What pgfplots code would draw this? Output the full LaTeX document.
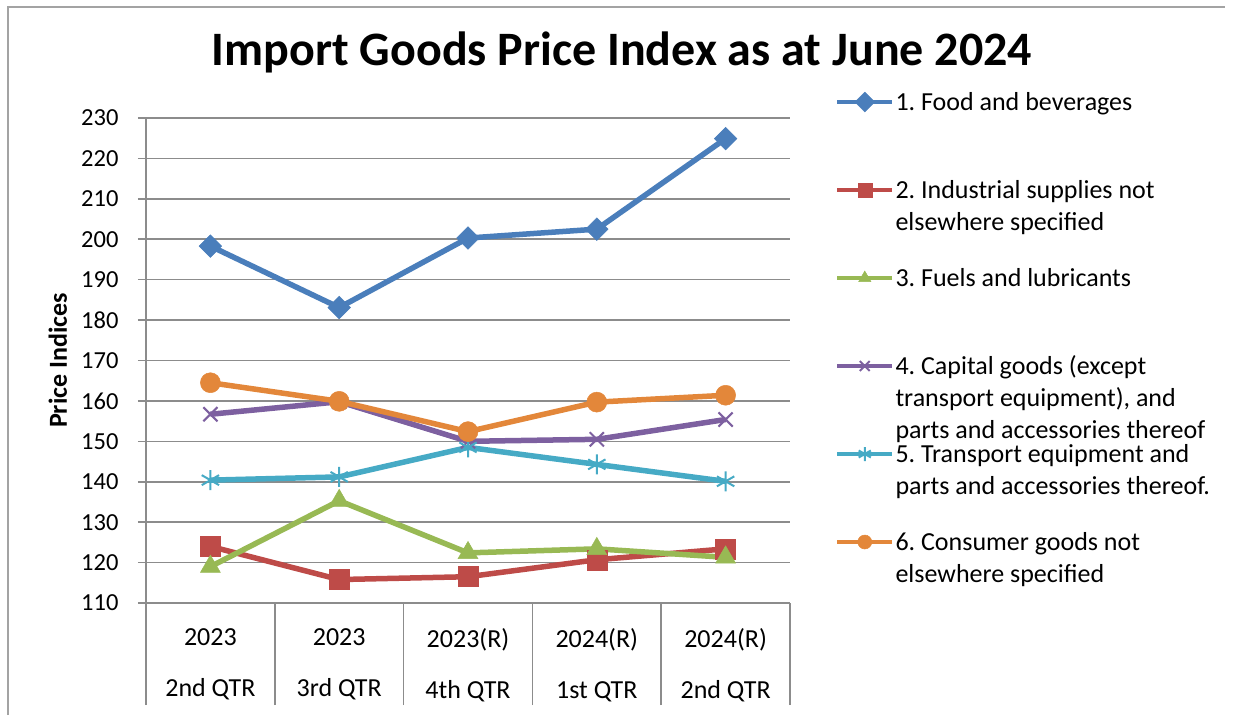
\documentclass[border=0pt]{standalone}
\usepackage{pgfplots}
\pgfplotsset{compat=1.18}
\usepackage{fontspec}
\setmainfont{Carlito}
\frenchspacing
\definecolor{cFood}{HTML}{4A7EBB}
\definecolor{cInd}{HTML}{BE4B48}
\definecolor{cFuel}{HTML}{98B954}
\definecolor{cCap}{HTML}{7D60A0}
\definecolor{cTra}{HTML}{46AAC5}
\definecolor{cCon}{HTML}{E3873A}
\definecolor{gridgray}{HTML}{8C8C8C}
\begin{document}
\begin{tikzpicture}[x=1pt,y=1pt]
\useasboundingbox (0,0) rectangle (1233,715);
\draw[gridgray!80, line width=1.2pt] (8,0) -- (8,708) -- (1225,708);
\begin{axis}[
  at={(146pt,112pt)}, anchor=south west,
  width=644pt, height=485pt, scale only axis,
  xmin=-0.5, xmax=4.5, ymin=110, ymax=230,
  ytick={110,120,...,230},
  xtick={0,...,4},
  xticklabels={{2023\\2nd QTR},{2023\\3rd QTR},{2023(R)\\4th QTR},{2024(R)\\1st QTR},{2024(R)\\2nd QTR}},
  xtick style={draw=none},
  extra x ticks={-0.5,0.5,1.5,2.5,3.5,4.5},
  extra x tick labels={},
  extra x tick style={grid=none, major tick length=102pt, xtick style={draw=gridgray, line width=1.5pt}},
  major tick length=8pt, tick align=outside,
  ytick style={draw=gridgray, line width=1.5pt},
  ymajorgrids=true,
  grid style={draw=gridgray, line width=1.5pt},
  axis x line*=bottom, axis y line*=left,
  axis line style={draw=gridgray, line width=1.5pt},
  /pgf/number format/assume math mode=true,
  yticklabel style={font=\fontsize{24.5}{28}\selectfont, xshift=-16pt},
  xticklabel style={align=center, font=\fontsize{26}{51}\selectfont, yshift=-14pt},
  ylabel={\textbf{Price Indices}},
  ylabel style={font=\fontsize{26}{30}\selectfont, at={(axis description cs:-0.137,0.5)}, anchor=center, rotate=0},
  title={\textbf{Import Goods Price Index as at June 2024}},
  title style={font=\fontsize{48}{52}\selectfont, at={(axis description cs:0.739,1.1237)}, anchor=center},
  legend style={at={(axis description cs:1.0699,1.0536)}, anchor=north west, draw=none, fill=none,
    inner sep=0pt, outer sep=0pt, row sep=0pt, column sep=1pt,
    font=\fontsize{26}{32}\selectfont,
    cells={anchor=base west},
    nodes={text height=18pt, text depth=70pt, inner sep=0pt}},
  legend image code/.code={\draw[mark repeat=2,mark phase=2] plot coordinates {(0pt,0pt) (27.5pt,0pt) (55pt,0pt)};},
  legend image post style={yshift=8pt, mark size=7pt, line width=4.5pt},
]
\addplot[cFood, line width=5.5pt, mark=square*, mark size=8pt, mark options={solid, rotate=45, fill=cFood, line width=0.5pt}]
  coordinates {(0,198.3)(1,183.1)(2,200.3)(3,202.5)(4,224.9)};
\addlegendentry{\parbox[t]{340pt}{1. Food and beverages}}
\addplot[cInd, line width=5.5pt, mark=square*, mark size=10pt, mark options={solid, fill=cInd, line width=0.5pt}]
  coordinates {(0,124.0)(1,115.8)(2,116.5)(3,120.7)(4,123.4)};
\addlegendentry{\parbox[t]{340pt}{2. Industrial supplies not\\elsewhere specified}}
\addplot[cFuel, line width=5.5pt, mark=triangle*, mark size=11.5pt, mark options={solid, fill=cFuel, line width=0.5pt}]
  coordinates {(0,119.0)(1,135.3)(2,122.4)(3,123.4)(4,121.3)};
\addlegendentry{\parbox[t]{340pt}{3. Fuels and lubricants}}
\addplot[cCap, line width=5.5pt, mark=x, mark size=10pt, mark options={solid, line width=2pt}]
  coordinates {(0,156.7)(1,159.8)(2,150.0)(3,150.5)(4,155.4)};
\addlegendentry{\parbox[t]{340pt}{4. Capital goods (except\\transport equipment), and\\parts and accessories thereof}}
\addplot[cTra, line width=5.5pt, mark=asterisk, mark size=10pt, mark options={solid, line width=2pt}]
  coordinates {(0,140.4)(1,141.2)(2,148.5)(3,144.3)(4,140.1)};
\addlegendentry{\parbox[t]{340pt}{5. Transport equipment and\\parts and accessories thereof.}}
\addplot[cCon, line width=5.5pt, mark=*, mark size=10pt, mark options={solid, fill=cCon, line width=0.5pt}]
  coordinates {(0,164.5)(1,159.9)(2,152.4)(3,159.7)(4,161.4)};
\addlegendentry{\parbox[t]{340pt}{6. Consumer goods not\\elsewhere specified}}
\end{axis}
\end{tikzpicture}
\end{document}
